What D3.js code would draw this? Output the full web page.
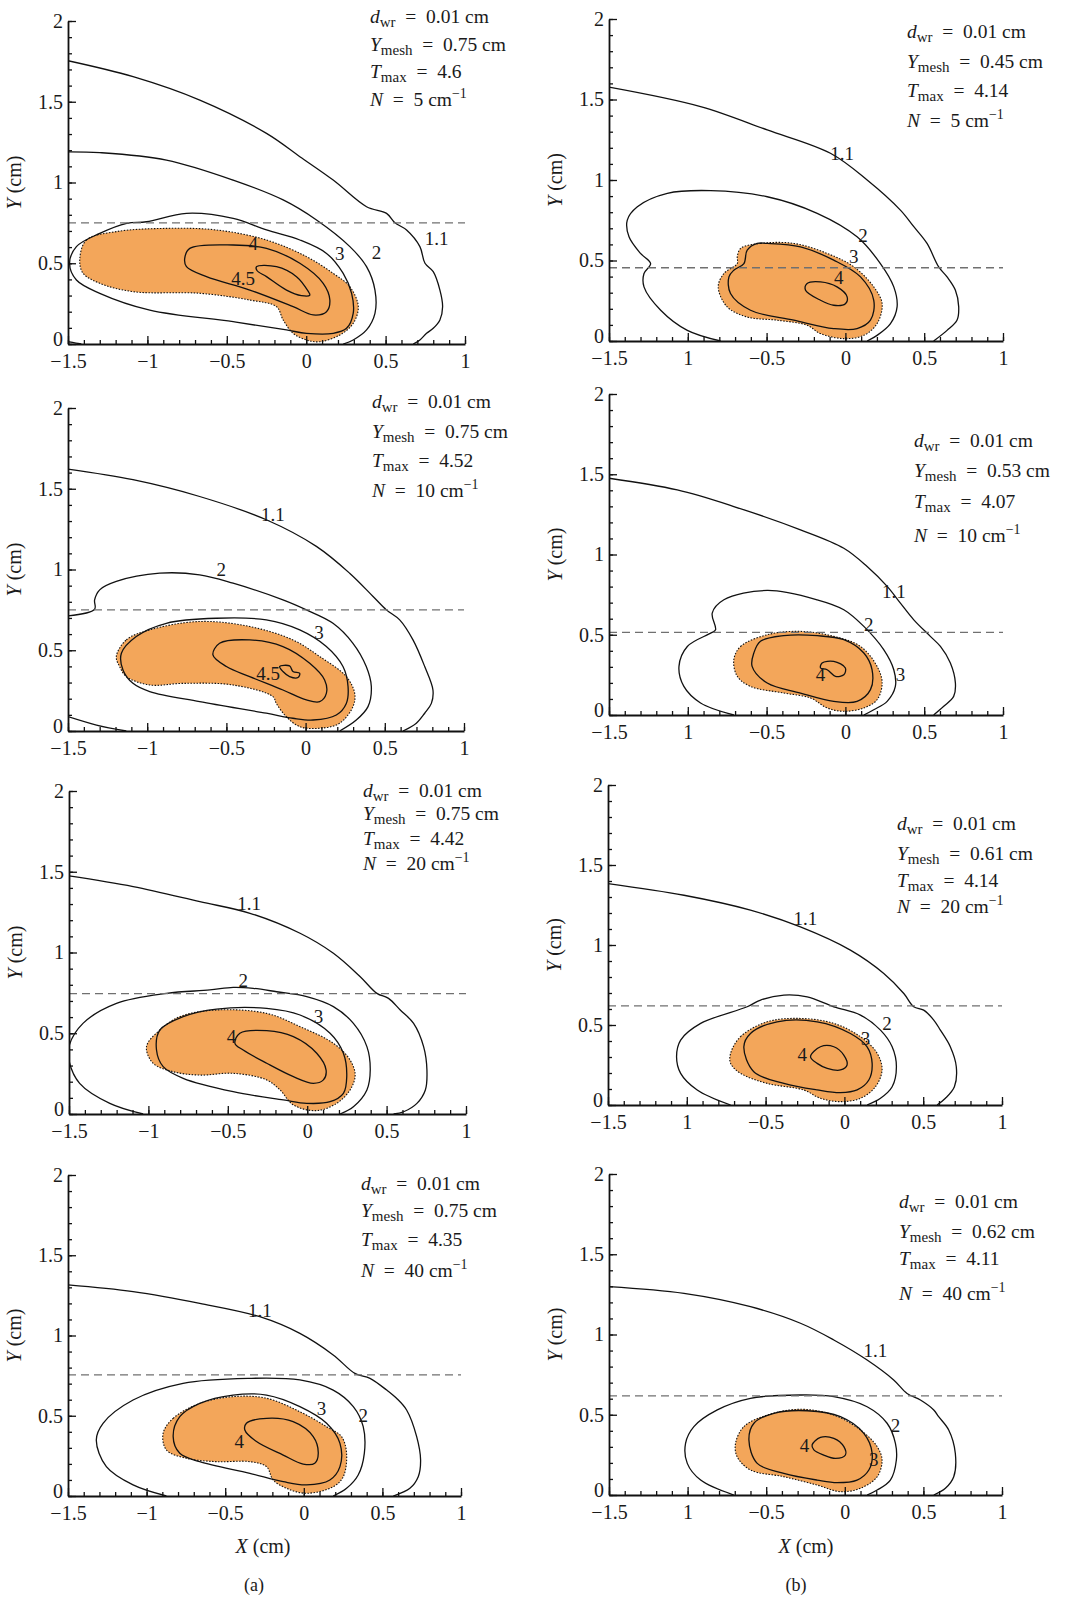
<!DOCTYPE html>
<html>
<head>
<meta charset="utf-8">
<script src="https://cdn.jsdelivr.net/npm/d3@7/dist/d3.min.js"></script>
<style>
  body { margin: 0; background: #fff; }
  text { font-family: "Liberation Serif", "Times New Roman", serif; fill: #1a1a1a; }
</style>
</head>
<body>
<script>
// ---- tick values / labels ----
const xMajorTicks = [-1.5, -1, -0.5, 0, 0.5, 1];
const yMajorTicks = [0, 0.5, 1, 1.5, 2];
const xTickLabelsA = ["\u22121.5", "\u22121", "\u22120.5", "0", "0.5", "1"];
const xTickLabelsB = ["\u22121.5", "1", "\u22120.5", "0", "0.5", "1"];   // as printed in (b)
const yTickLabels = ["0", "0.5", "1", "1.5", "2"];

// ---- panel parameters (rows: N = 5, 10, 20, 40) ----
const nValues = ["5", "10", "20", "40"];
const dwrValue = "0.01";
const ymeshA = ["0.75", "0.75", "0.75", "0.75"];
const tmaxA = ["4.6", "4.52", "4.42", "4.35"];
const ymeshB = ["0.45", "0.53", "0.61", "0.62"];
const tmaxB = ["4.14", "4.07", "4.14", "4.11"];
const dashA = [0.75, 0.75, 0.745, 0.755];
const dashB = [0.455, 0.515, 0.62, 0.617];

// ---- contours, (X, Y) in cm ----
// (a) N = 5
const a5_t11 = [[-1.5,1.754],[-1.09,1.655],[-0.67,1.51],[-0.25,1.304],[-0.04,1.16],[0.17,1.015],[0.38,0.85],[0.506,0.809],[0.559,0.751],[0.632,0.706],[0.716,0.603],[0.748,0.5],[0.80,0.448],[0.842,0.334],[0.859,0.231],[0.842,0.149],[0.80,0.097],[0.758,0.066],[0.716,0.025],[0.674,0]];
const a5_t2 = [[-1.5,1.19],[-1.30,1.185],[-0.88,1.139],[-0.46,1.015],[-0.145,0.892],[0.065,0.768],[0.275,0.603],[0.38,0.479],[0.433,0.334],[0.433,0.19],[0.38,0.087],[0.296,0.025],[0.233,0]];
const a5_t2b = [[-1.5,0.014],[-1.45,0.006],[-1.416,0]];
const a5_t3 = [[-1.006,0.757],[-0.754,0.809],[-0.46,0.778],[-0.25,0.706],[-0.04,0.644],[0.128,0.561],[0.233,0.437],[0.286,0.314],[0.296,0.19],[0.254,0.097],[0.17,0.066],[0.002,0.066],[-0.124,0.087],[-0.46,0.138],[-0.985,0.21],[-1.30,0.314],[-1.447,0.396],[-1.49,0.5],[-1.447,0.603],[-1.30,0.685],[-1.13,0.747]];
const a5_fill = [[-1.426,0.52],[-1.384,0.644],[-1.195,0.696],[-0.88,0.716],[-0.565,0.706],[-0.25,0.644],[0.002,0.541],[0.17,0.437],[0.275,0.355],[0.328,0.231],[0.296,0.128],[0.212,0.056],[0.086,0.014],[0.002,0.025],[-0.082,0.066],[-0.145,0.149],[-0.187,0.231],[-0.355,0.272],[-0.67,0.314],[-1.09,0.324],[-1.30,0.376],[-1.405,0.438]];
const a5_t4 = [[-0.765,0.53],[-0.733,0.592],[-0.46,0.613],[-0.25,0.592],[-0.04,0.5],[0.107,0.376],[0.149,0.272],[0.128,0.2],[0.044,0.18],[-0.082,0.231],[-0.355,0.334],[-0.628,0.417],[-0.754,0.479]];
const a5_t45 = [[-0.313,0.479],[-0.187,0.479],[-0.061,0.417],[0.01,0.33],[0.023,0.303],[-0.03,0.3],[-0.124,0.334],[-0.25,0.417],[-0.31,0.455]];
const a5_labels = [["4",-0.334,0.623],["3",0.212,0.561],["2",0.443,0.568],["1.1",0.821,0.654],["4.5",-0.397,0.407]];

// (b) N = 5
const b5_t11 = [[-1.5,1.577],[-0.919,1.456],[-0.496,1.311],[-0.095,1.166],[0.138,1.0],[0.349,0.813],[0.434,0.71],[0.518,0.606],[0.592,0.46],[0.645,0.398],[0.698,0.315],[0.719,0.212],[0.708,0.129],[0.645,0.066],[0.56,0]];
const b5_t2 = [[-0.792,0],[-1.003,0.066],[-1.172,0.191],[-1.278,0.336],[-1.278,0.419],[-1.236,0.481],[-1.30,0.544],[-1.373,0.647],[-1.384,0.751],[-1.32,0.834],[-1.13,0.917],[-0.855,0.934],[-0.496,0.896],[-0.179,0.793],[0.074,0.647],[0.222,0.481],[0.307,0.336],[0.328,0.212],[0.286,0.108],[0.201,0.035],[0.138,0]];
const b5_t3 = [[-0.496,0.606],[-0.285,0.585],[-0.074,0.502],[0.096,0.398],[0.18,0.253],[0.159,0.129],[0.074,0.077],[-0.074,0.077],[-0.327,0.129],[-0.602,0.191],[-0.729,0.295],[-0.739,0.398],[-0.708,0.44],[-0.644,0.481],[-0.623,0.564],[-0.56,0.606]];
const b5_fill = [[-0.665,0.575],[-0.538,0.606],[-0.327,0.606],[-0.116,0.544],[0.053,0.461],[0.18,0.336],[0.233,0.232],[0.201,0.108],[0.117,0.035],[-0.01,0.015],[-0.158,0.046],[-0.243,0.098],[-0.433,0.129],[-0.623,0.149],[-0.75,0.212],[-0.807,0.336],[-0.771,0.419],[-0.686,0.481],[-0.686,0.523]];
const b5_t4 = [[-0.243,0.357],[-0.158,0.367],[-0.053,0.336],[0.011,0.274],[0.0,0.232],[-0.074,0.222],[-0.158,0.253],[-0.253,0.315]];
const b5_labels = [["1.1",-0.021,1.166],["2",0.112,0.658],["3",0.053,0.523],["4",-0.042,0.394]];

// (a) N = 10
const a10_t11 = [[-1.5,1.622],[-1.09,1.556],[-0.669,1.452],[-0.248,1.308],[0.068,1.143],[0.278,0.977],[0.426,0.833],[0.51,0.75],[0.594,0.688],[0.678,0.564],[0.752,0.399],[0.804,0.254],[0.794,0.171],[0.752,0.11],[0.699,0.048],[0.615,0]];
const a10_t2 = [[-1.5,0.713],[-1.332,0.754],[-1.332,0.812],[-1.30,0.874],[-1.195,0.926],[-0.921,0.977],[-0.669,0.967],[-0.458,0.915],[-0.143,0.812],[0.005,0.75],[0.173,0.667],[0.299,0.543],[0.383,0.399],[0.415,0.275],[0.394,0.151],[0.32,0.068],[0.215,0]];
const a10_t2b = [[-1.5,0.089],[-1.32,0.037],[-1.132,0]];
const a10_t3 = [[-1.153,0.378],[-1.163,0.481],[-1.069,0.585],[-0.879,0.667],[-0.564,0.698],[-0.248,0.688],[-0.037,0.626],[0.131,0.523],[0.236,0.399],[0.268,0.275],[0.257,0.171],[0.194,0.099],[0.047,0.068],[-0.08,0.079],[-0.248,0.11],[-0.669,0.182],[-0.984,0.244],[-1.09,0.295]];
const a10_fill = [[-1.195,0.461],[-1.132,0.564],[-0.984,0.626],[-0.669,0.678],[-0.353,0.647],[-0.08,0.564],[0.089,0.461],[0.257,0.337],[0.31,0.233],[0.299,0.151],[0.215,0.048],[0.089,0.017],[-0.037,0.027],[-0.122,0.089],[-0.185,0.171],[-0.206,0.213],[-0.458,0.285],[-0.774,0.295],[-0.984,0.285],[-1.132,0.337],[-1.174,0.399]];
const a10_t4 = [[-0.585,0.471],[-0.543,0.543],[-0.353,0.564],[-0.143,0.523],[0.026,0.419],[0.12,0.316],[0.131,0.233],[0.089,0.182],[0.005,0.192],[-0.143,0.254],[-0.353,0.337],[-0.5,0.399]];
const a10_t45 = [[-0.164,0.399],[-0.101,0.403],[-0.08,0.368],[-0.037,0.357],[-0.048,0.331],[-0.101,0.337],[-0.143,0.368]];
const a10_labels = [["1.1",-0.206,1.339],["2",-0.532,0.998],["3",0.085,0.612],["4.5",-0.237,0.357]];

// (b) N = 10
const b10_t11 = [[-1.5,1.475],[-1.067,1.402],[-0.708,1.299],[-0.285,1.154],[-0.01,1.039],[0.138,0.925],[0.265,0.801],[0.349,0.697],[0.434,0.593],[0.539,0.49],[0.603,0.427],[0.666,0.324],[0.698,0.199],[0.687,0.116],[0.624,0.054],[0.56,0]];
const b10_t2 = [[-0.708,0],[-0.919,0.075],[-1.025,0.178],[-1.056,0.303],[-1.003,0.427],[-0.855,0.51],[-0.824,0.531],[-0.845,0.635],[-0.771,0.718],[-0.496,0.776],[-0.179,0.718],[-0.01,0.656],[0.117,0.552],[0.243,0.407],[0.307,0.282],[0.317,0.178],[0.265,0.085],[0.18,0.033],[0.117,0]];
const b10_t3 = [[-0.581,0.386],[-0.592,0.303],[-0.496,0.199],[-0.285,0.137],[-0.074,0.085],[0.074,0.085],[0.159,0.158],[0.169,0.282],[0.117,0.386],[-0.01,0.469],[-0.179,0.494],[-0.391,0.494],[-0.539,0.459]];
const b10_fill = [[-0.708,0.344],[-0.665,0.427],[-0.496,0.5],[-0.285,0.521],[-0.074,0.49],[0.096,0.427],[0.201,0.303],[0.233,0.199],[0.201,0.095],[0.117,0.044],[-0.01,0.023],[-0.116,0.044],[-0.221,0.106],[-0.391,0.137],[-0.602,0.178],[-0.686,0.241]];
const b10_t4 = [[-0.148,0.324],[-0.074,0.334],[0.0,0.293],[-0.01,0.251],[-0.063,0.241],[-0.116,0.282],[-0.158,0.293]];
const b10_labels = [["1.1",0.307,0.77],["2",0.148,0.562],["3",0.349,0.251],["4",-0.158,0.251]];

// (a) N = 20
const a20_t11 = [[-1.5,1.474],[-1.096,1.408],[-0.676,1.315],[-0.36,1.243],[-0.045,1.119],[0.165,0.995],[0.334,0.85],[0.439,0.747],[0.512,0.716],[0.586,0.644],[0.67,0.561],[0.733,0.417],[0.754,0.272],[0.744,0.149],[0.691,0.066],[0.607,0.014],[0.544,0]];
const a20_t2 = [[-1.033,0],[-1.243,0.066],[-1.433,0.19],[-1.5,0.33],[-1.5,0.42],[-1.412,0.561],[-1.201,0.685],[-0.886,0.747],[-0.613,0.768],[-0.466,0.784],[-0.34,0.778],[-0.192,0.757],[-0.003,0.727],[0.165,0.665],[0.291,0.561],[0.376,0.417],[0.397,0.272],[0.376,0.149],[0.291,0.045],[0.207,0]];
const a20_t3 = [[-0.949,0.396],[-0.928,0.52],[-0.781,0.603],[-0.571,0.65],[-0.255,0.654],[-0.045,0.613],[0.144,0.5],[0.228,0.376],[0.249,0.231],[0.228,0.128],[0.144,0.076],[-0.003,0.066],[-0.15,0.087],[-0.466,0.138],[-0.781,0.221],[-0.907,0.293]];
const a20_fill = [[-1.012,0.417],[-0.928,0.52],[-0.802,0.603],[-0.571,0.644],[-0.255,0.623],[-0.045,0.541],[0.165,0.438],[0.27,0.334],[0.302,0.241],[0.27,0.149],[0.186,0.066],[0.06,0.021],[-0.087,0.056],[-0.171,0.149],[-0.255,0.211],[-0.466,0.252],[-0.676,0.241],[-0.844,0.262],[-0.97,0.314]];
const a20_t4 = [[-0.455,0.438],[-0.424,0.5],[-0.255,0.516],[-0.087,0.479],[0.06,0.376],[0.119,0.272],[0.102,0.211],[0.039,0.19],[-0.087,0.231],[-0.255,0.314],[-0.403,0.396]];
const a20_labels = [["1.1",-0.365,1.304],["2",-0.402,0.826],["3",0.071,0.603],["4",-0.476,0.479]];

// (b) N = 20
const b20_t11 = [[-1.5,1.384],[-1.018,1.311],[-0.596,1.218],[-0.279,1.113],[0.038,0.968],[0.25,0.822],[0.377,0.697],[0.44,0.614],[0.503,0.593],[0.567,0.531],[0.609,0.468],[0.672,0.364],[0.71,0.239],[0.698,0.114],[0.641,0.042],[0.588,0]];
const b20_t2 = [[-0.722,0],[-0.934,0.094],[-1.039,0.198],[-1.065,0.302],[-1.039,0.406],[-0.912,0.51],[-0.617,0.614],[-0.532,0.656],[-0.384,0.687],[-0.236,0.676],[-0.067,0.614],[0.102,0.562],[0.229,0.468],[0.303,0.364],[0.33,0.239],[0.303,0.114],[0.229,0.042],[0.144,0]];
const b20_t3 = [[-0.638,0.364],[-0.596,0.447],[-0.427,0.52],[-0.173,0.52],[0.038,0.447],[0.144,0.364],[0.176,0.26],[0.155,0.156],[0.081,0.094],[-0.025,0.077],[-0.173,0.094],[-0.384,0.135],[-0.575,0.208]];
const b20_fill = [[-0.722,0.323],[-0.659,0.427],[-0.49,0.52],[-0.279,0.541],[-0.067,0.51],[0.102,0.427],[0.208,0.323],[0.239,0.219],[0.197,0.114],[0.102,0.042],[-0.025,0.021],[-0.152,0.042],[-0.258,0.094],[-0.49,0.135],[-0.659,0.198],[-0.722,0.26]];
const b20_t4 = [[-0.215,0.302],[-0.152,0.364],[-0.067,0.364],[-0.004,0.312],[0.017,0.25],[-0.025,0.219],[-0.109,0.229],[-0.173,0.26]];
const b20_labels = [["1.1",-0.247,1.165],["2",0.271,0.51],["3",0.134,0.416],["4",-0.268,0.318]];

// (a) N = 40
const a40_t11 = [[-1.5,1.315],[-1.086,1.273],[-0.662,1.2],[-0.28,1.117],[-0.025,1.013],[0.187,0.879],[0.325,0.764],[0.421,0.733],[0.527,0.66],[0.59,0.609],[0.654,0.536],[0.718,0.37],[0.743,0.224],[0.728,0.12],[0.675,0.048],[0.569,0]];
const a40_t2 = [[-0.874,0],[-1.086,0.069],[-1.256,0.183],[-1.32,0.349],[-1.277,0.453],[-1.086,0.598],[-0.768,0.702],[-0.343,0.733],[-0.025,0.723],[0.187,0.66],[0.315,0.557],[0.378,0.432],[0.385,0.266],[0.346,0.131],[0.272,0.048],[0.187,0]];
const a40_t3 = [[-0.831,0.37],[-0.789,0.494],[-0.662,0.577],[-0.45,0.629],[-0.237,0.629],[-0.025,0.557],[0.145,0.453],[0.23,0.328],[0.23,0.183],[0.166,0.1],[0.017,0.069],[-0.131,0.089],[-0.343,0.141],[-0.662,0.214],[-0.789,0.266]];
const a40_fill = [[-0.895,0.39],[-0.831,0.484],[-0.662,0.577],[-0.45,0.619],[-0.237,0.609],[-0.025,0.525],[0.145,0.432],[0.24,0.37],[0.272,0.266],[0.251,0.12],[0.187,0.058],[0.017,0.017],[-0.11,0.048],[-0.195,0.1],[-0.237,0.183],[-0.343,0.214],[-0.556,0.214],[-0.747,0.235],[-0.874,0.287]];
const a40_t4 = [[-0.375,0.411],[-0.365,0.453],[-0.237,0.484],[-0.068,0.463],[0.06,0.37],[0.092,0.266],[0.07,0.204],[-0.004,0.199],[-0.131,0.255],[-0.301,0.339]];
const a40_labels = [["1.1",-0.28,1.159],["3",0.113,0.546],["2",0.378,0.505],["4",-0.411,0.339]];

// (b) N = 40
const b40_t11 = [[-1.5,1.298],[-1.023,1.256],[-0.6,1.173],[-0.282,1.07],[-0.07,0.966],[0.142,0.841],[0.311,0.717],[0.396,0.633],[0.481,0.592],[0.566,0.53],[0.597,0.488],[0.661,0.405],[0.703,0.26],[0.693,0.114],[0.64,0.042],[0.566,0]];
const b40_t2 = [[-0.706,0],[-0.917,0.093],[-1.002,0.197],[-1.013,0.322],[-0.96,0.426],[-0.811,0.53],[-0.6,0.602],[-0.282,0.623],[-0.07,0.613],[0.142,0.55],[0.269,0.447],[0.322,0.322],[0.328,0.218],[0.29,0.093],[0.206,0.031],[0.142,0]];
const b40_t3 = [[-0.61,0.343],[-0.578,0.447],[-0.451,0.509],[-0.239,0.525],[-0.028,0.488],[0.121,0.384],[0.174,0.26],[0.153,0.156],[0.078,0.093],[-0.049,0.077],[-0.176,0.093],[-0.388,0.135],[-0.557,0.197]];
const b40_fill = [[-0.695,0.322],[-0.642,0.426],[-0.494,0.498],[-0.282,0.534],[-0.07,0.498],[0.1,0.405],[0.206,0.301],[0.237,0.218],[0.206,0.114],[0.1,0.042],[-0.028,0.021],[-0.176,0.062],[-0.388,0.114],[-0.6,0.156],[-0.685,0.239]];
const b40_t4 = [[-0.208,0.312],[-0.155,0.359],[-0.07,0.353],[-0.006,0.301],[0.004,0.249],[-0.059,0.228],[-0.134,0.249],[-0.197,0.281]];
const b40_labels = [["1.1",0.195,0.903],["2",0.322,0.436],["3",0.184,0.222],["4",-0.256,0.312]];

// ---- panel table built from the arrays above ----
const panels = [
  {open:[a5_t11,a5_t2,a5_t2b], loops:[a5_t3,a5_t4,a5_t45], fill:a5_fill, labels:a5_labels, ymesh:ymeshA[0], tmax:tmaxA[0], n:nValues[0], dash:dashA[0], xt:xTickLabelsA},
  {open:[b5_t11,b5_t2], loops:[b5_t3,b5_t4], fill:b5_fill, labels:b5_labels, ymesh:ymeshB[0], tmax:tmaxB[0], n:nValues[0], dash:dashB[0], xt:xTickLabelsB},
  {open:[a10_t11,a10_t2,a10_t2b], loops:[a10_t3,a10_t4,a10_t45], fill:a10_fill, labels:a10_labels, ymesh:ymeshA[1], tmax:tmaxA[1], n:nValues[1], dash:dashA[1], xt:xTickLabelsA},
  {open:[b10_t11,b10_t2], loops:[b10_t3,b10_t4], fill:b10_fill, labels:b10_labels, ymesh:ymeshB[1], tmax:tmaxB[1], n:nValues[1], dash:dashB[1], xt:xTickLabelsB},
  {open:[a20_t11,a20_t2], loops:[a20_t3,a20_t4], fill:a20_fill, labels:a20_labels, ymesh:ymeshA[2], tmax:tmaxA[2], n:nValues[2], dash:dashA[2], xt:xTickLabelsA},
  {open:[b20_t11,b20_t2], loops:[b20_t3,b20_t4], fill:b20_fill, labels:b20_labels, ymesh:ymeshB[2], tmax:tmaxB[2], n:nValues[2], dash:dashB[2], xt:xTickLabelsB},
  {open:[a40_t11,a40_t2], loops:[a40_t3,a40_t4], fill:a40_fill, labels:a40_labels, ymesh:ymeshA[3], tmax:tmaxA[3], n:nValues[3], dash:dashA[3], xt:xTickLabelsA},
  {open:[b40_t11,b40_t2], loops:[b40_t3,b40_t4], fill:b40_fill, labels:b40_labels, ymesh:ymeshB[3], tmax:tmaxB[3], n:nValues[3], dash:dashB[3], xt:xTickLabelsB}
];

// pixel frame of each plot + where its note block sits
const frames = [
  {x0:68,  x1:465,  y0:21,   y1:344,  tx:370, ty:[23, 51, 78, 106]},
  {x0:609, x1:1003, y0:19,   y1:341,  tx:907, ty:[38, 68, 97, 127]},
  {x0:68,  x1:464,  y0:408,  y1:731,  tx:372, ty:[408, 438, 467, 497]},
  {x0:609, x1:1003, y0:394,  y1:715,  tx:914, ty:[447, 477, 508, 542]},
  {x0:69,  x1:466,  y0:791,  y1:1114, tx:363, ty:[797, 820, 845, 870]},
  {x0:608, x1:1002, y0:785,  y1:1105, tx:897, ty:[830, 860, 887, 913]},
  {x0:68,  x1:461,  y0:1175, y1:1496, tx:361, ty:[1190, 1217, 1246, 1277]},
  {x0:609, x1:1002, y0:1174, y1:1495, tx:899, ty:[1208, 1238, 1265, 1300]}
];

const svg = d3.select("body").append("svg")
    .attr("width", 1067)
    .attr("height", 1598)
    .attr("font-family", "Liberation Serif, Times New Roman, serif");

const defs = svg.append("defs");

// one line of the note block: italic symbol, optional subscript, rest, optional superscript
function noteLine(g, x, y, sym, sub, rest, sup) {
  const t = g.append("text")
      .attr("x", x).attr("y", y)
      .attr("font-size", 19.5)
      .style("white-space", "pre");
  t.append("tspan").attr("font-style", "italic").text(sym);
  if (sub) t.append("tspan").attr("font-size", 15).attr("dy", 4).text(sub);
  t.append("tspan").attr("dy", sub ? -4 : 0).text(rest);
  if (sup) t.append("tspan").attr("font-size", 14).attr("dy", -8).text(sup);
}

function drawPanel(p, f, i) {
  const x = d3.scaleLinear().domain([-1.5, 1]).range([f.x0, f.x1]);
  const y = d3.scaleLinear().domain([0, 2]).range([f.y1, f.y0]);

  const openLine = d3.line().x(d => x(d[0])).y(d => y(d[1])).curve(d3.curveCatmullRom.alpha(0.5));
  const loopLine = d3.line().x(d => x(d[0])).y(d => y(d[1])).curve(d3.curveCatmullRomClosed.alpha(0.5));

  defs.append("clipPath").attr("id", "clip" + i)
    .append("rect")
      .attr("x", f.x0).attr("y", f.y0)
      .attr("width", f.x1 - f.x0).attr("height", f.y1 - f.y0);

  const g = svg.append("g");
  const plot = g.append("g").attr("clip-path", "url(#clip" + i + ")");

  // shaded region with dotted edge
  plot.append("path")
      .attr("d", loopLine(p.fill))
      .attr("fill", "#F3A65A")
      .attr("stroke", "#111")
      .attr("stroke-width", 1.1)
      .attr("stroke-dasharray", "1.5,1.5");

  p.open.forEach(pts => {
    plot.append("path")
        .attr("d", openLine(pts))
        .attr("fill", "none")
        .attr("stroke", "#111")
        .attr("stroke-width", 1.3);
  });
  p.loops.forEach(pts => {
    plot.append("path")
        .attr("d", loopLine(pts))
        .attr("fill", "none")
        .attr("stroke", "#111")
        .attr("stroke-width", 1.3);
  });

  // Y_mesh line
  plot.append("line")
      .attr("x1", x(-1.5)).attr("x2", x(1))
      .attr("y1", y(p.dash)).attr("y2", y(p.dash))
      .attr("stroke", "#707070")
      .attr("stroke-width", 1.3)
      .attr("stroke-dasharray", "8,5");

  // contour labels
  plot.selectAll("text.clab")
    .data(p.labels)
    .enter().append("text")
      .attr("class", "clab")
      .attr("x", d => x(d[1]))
      .attr("y", d => y(d[2]))
      .attr("dy", "0.35em")
      .attr("text-anchor", "middle")
      .attr("font-size", 19)
      .text(d => d[0]);

  // axes: minor ticks every 0.1, major every 0.5, all pointing inwards
  const minorX = d3.range(-15, 11).map(k => k / 10);
  const minorY = d3.range(0, 21).map(k => k / 10);

  g.append("g")
      .attr("transform", "translate(0," + f.y1 + ")")
      .call(d3.axisBottom(x).tickValues(minorX).tickSize(-4).tickSizeOuter(0).tickFormat(""))
      .call(a => a.select(".domain").remove());
  g.append("g")
      .attr("transform", "translate(" + f.x0 + ",0)")
      .call(d3.axisLeft(y).tickValues(minorY).tickSize(-4).tickSizeOuter(0).tickFormat(""))
      .call(a => a.select(".domain").remove());

  const xAxis = g.append("g")
      .attr("transform", "translate(0," + f.y1 + ")")
      .call(d3.axisBottom(x).tickValues(xMajorTicks).tickSize(-8).tickSizeOuter(0)
              .tickPadding(10).tickFormat((d, k) => p.xt[k]));
  const yAxis = g.append("g")
      .attr("transform", "translate(" + f.x0 + ",0)")
      .call(d3.axisLeft(y).tickValues(yMajorTicks).tickSize(-8).tickSizeOuter(0)
              .tickPadding(5).tickFormat((d, k) => yTickLabels[k]));

  g.selectAll(".tick line").attr("stroke", "#111").attr("stroke-width", 1.3);
  [xAxis, yAxis].forEach(a => {
    a.attr("font-family", null).attr("font-size", null);
    a.select(".domain").attr("stroke", "#111").attr("stroke-width", 1.8);
    a.selectAll("text").attr("font-size", 20).attr("fill", "#1a1a1a");
  });
  // lift the "0" on Y a touch so it clears the X labels
  yAxis.selectAll(".tick").filter(d => d === 0).select("text").attr("dy", "0.08em");

  // Y title
  const yt = g.append("text")
      .attr("transform", "translate(" + (f.x0 - 47) + "," + ((f.y0 + f.y1) / 2) + ") rotate(-90)")
      .attr("text-anchor", "middle")
      .attr("font-size", 20)
      .style("white-space", "pre");
  yt.append("tspan").attr("font-style", "italic").text("Y");
  yt.append("tspan").text(" (cm)");

  // note block
  noteLine(g, f.tx, f.ty[0], "d", "wr", "\u2002=\u2002" + dwrValue + " cm");
  noteLine(g, f.tx, f.ty[1], "Y", "mesh", "\u2002=\u2002" + p.ymesh + " cm");
  noteLine(g, f.tx, f.ty[2], "T", "max", "\u2002=\u2002" + p.tmax);
  noteLine(g, f.tx, f.ty[3], "N", null, "\u2002=\u2002" + p.n + " cm", "\u22121");
}

panels.forEach((p, i) => drawPanel(p, frames[i], i));

// X titles and column captions
[[263, 254, "(a)"], [806, 796, "(b)"]].forEach(([cx, capx, cap]) => {
  const xt = svg.append("text")
      .attr("x", cx).attr("y", 1553)
      .attr("text-anchor", "middle")
      .attr("font-size", 20)
      .style("white-space", "pre");
  xt.append("tspan").attr("font-style", "italic").text("X");
  xt.append("tspan").text(" (cm)");

  svg.append("text")
      .attr("x", capx).attr("y", 1591)
      .attr("text-anchor", "middle")
      .attr("font-size", 18)
      .text(cap);
});
</script>
</body>
</html>
